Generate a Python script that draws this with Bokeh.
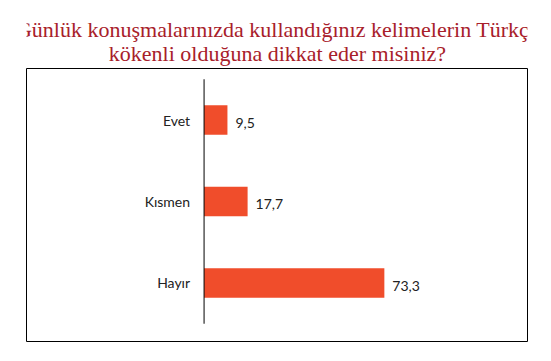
from bokeh.plotting import figure
from bokeh.layouts import column
from bokeh.models import ColumnDataSource, Range1d
from bokeh.core.properties import value
from bokeh.embed import file_html
from bokeh.resources import INLINE

title_lines = ["Günlük konuşmalarınızda kullandığınız kelimelerin Türkçe",
               "kökenli olduğuna dikkat eder misiniz?"]
categories = ["Evet", "Kısmen", "Hayır"]
values = [9.5, 17.7, 73.3]
value_labels = ["9,5", "17,7", "73,3"]

W, H = 551, 361
TITLE_H = 66

# ---- title strip (pixel coordinates, y from top) ----
t = figure(width=W, height=TITLE_H, output_backend="svg", toolbar_location=None,
           x_range=Range1d(0, W), y_range=Range1d(TITLE_H, 0),
           x_axis_location=None, y_axis_location=None,
           min_border=0, outline_line_color=None)
t.grid.visible = False
t.background_fill_color = "white"
t.border_fill_color = "white"
tsrc = ColumnDataSource(dict(txt=title_lines, x=[W / 2 + 0.5] * len(title_lines),
                             y=[29, 53]))
t.text(x="x", y="y", text="txt", source=tsrc, text_align="center",
       text_baseline="alphabetic", text_font=value("Liberation Serif"),
       text_font_size="22px", text_color="#a8202a")

# ---- main chart ----
n = len(categories)
ypos = [n - i for i in range(n)]
src = ColumnDataSource(dict(cat=categories, y=ypos, v=values, lab=value_labels,
                            zero=[0] * n))

p = figure(width=W, height=H - TITLE_H, output_backend="svg", toolbar_location=None,
           x_range=Range1d(-72.2, 131.5), y_range=Range1d(0.282, 3.632),
           x_axis_location=None, y_axis_location=None,
           min_border_left=26, min_border_right=24, min_border_top=2,
           min_border_bottom=20)
p.grid.visible = False
p.outline_line_color = "black"
p.outline_line_width = 1
p.background_fill_color = "white"
p.border_fill_color = "white"

p.hbar(y="y", left="zero", right="v", height=0.36, source=src,
       fill_color="#f04d2b", line_color=None)

# vertical axis line
p.segment(x0=[0], y0=[0.5], x1=[0], y1=[n + 0.5], line_color="black", line_width=1)

p.text(x="zero", y="y", text="cat", source=src, x_offset=-14,
       text_align="right", text_baseline="middle",
       text_font=value("Lato"), text_font_size="14px", text_color="#222222")
p.text(x="v", y="y", text="lab", source=src, x_offset=8, y_offset=3,
       text_align="left", text_baseline="middle",
       text_font=value("Lato"), text_font_size="14px", text_color="#222222")

layout = column(t, p, spacing=0)
open("out.html", "w").write(file_html(layout, INLINE))
